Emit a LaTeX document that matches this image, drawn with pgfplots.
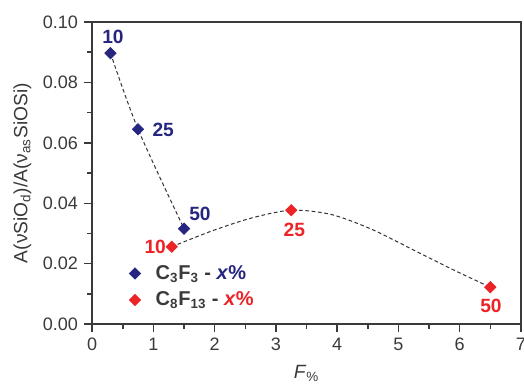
\documentclass[border=0pt]{standalone}
\usepackage{fontspec}
\setmainfont{Liberation Sans}
\usepackage{pgfplots}
\pgfplotsset{compat=1.18}
\usetikzlibrary{calc}
\definecolor{cblue}{HTML}{262680}
\definecolor{cred}{HTML}{EC2327}
\definecolor{ctext}{HTML}{3A3A3A}
\begin{document}
\begin{tikzpicture}
\begin{axis}[
  scale only axis, width=257pt, height=181pt,
  xmin=0, xmax=7, ymin=0, ymax=0.1,
  xtick={0,1,...,7}, ytick={0,0.02,...,0.1},
  minor x tick num=1, minor y tick num=1,
  tick align=outside, tick pos=left,
  major tick length=5pt, minor tick length=2.8pt,
  axis line style={line width=1.1pt, ctext},
  every tick/.style={line width=0.9pt, ctext},
  tick label style={font=\fontsize{10.8}{12}\selectfont, ctext},
  /pgf/number format/assume math mode=true,
  yticklabel style={/pgf/number format/.cd, fixed, fixed zerofill, precision=2},
  xlabel={\textit{F}\textsubscript{\%}},
  ylabel={A(νSiO\textsubscript{d})/A(ν\textsubscript{as}SiOSi)},
  label style={font=\fontsize{11.5}{13}\selectfont, ctext},
  xlabel style={yshift=-1.5pt},
  ylabel style={yshift=0pt},
  legend style={at={(axis cs:0.52,0.0218)}, anchor=north west, draw=none, fill=none,
    font=\fontsize{12}{14}\selectfont\bfseries, text=ctext, row sep=2pt},
  legend cell align=left,
  clip=false,
]
\coordinate (sw) at (rel axis cs:0,0);
\coordinate (ne) at (rel axis cs:1,1);
\addplot[only marks, mark=square*, mark size=2.4pt, mark options={rotate=45}, cblue] coordinates {
(0.30,0.0897) (0.75,0.0645) (1.50,0.0316)};
\addlegendentry{\hspace{7pt}C\textsubscript{3}F\textsubscript{3} - \textcolor{cblue}{\textit{x}\%}}
\addplot[only marks, mark=square*, mark size=2.4pt, mark options={rotate=45}, cred] coordinates {
(1.30,0.0256) (3.25,0.0377) (6.50,0.0122)};
\addlegendentry{\hspace{7pt}C\textsubscript{8}F\textsubscript{13} - \textcolor{cred}{\textit{x}\%}}
\addplot[smooth, dash pattern=on 2.2pt off 1.6pt, line width=0.6pt, black!80, forget plot] coordinates {
(0.30,0.0897) (0.75,0.0645) (1.50,0.0316)};
\addplot[smooth, dash pattern=on 2.2pt off 1.6pt, line width=0.6pt, black!80, forget plot] coordinates {
(1.30,0.0256) (1.95,0.0308) (2.60,0.0351) (3.25,0.0377) (3.90,0.0363) (4.55,0.0315) (5.20,0.0250) (5.85,0.0184) (6.50,0.0122)};
\begin{scope}[font=\fontsize{11.5}{13}\selectfont\bfseries]
\node[cblue] at (axis cs:0.34,0.0950) {10};
\node[cblue] at (axis cs:1.16,0.0642) {25};
\node[cblue] at (axis cs:1.76,0.0364) {50};
\node[cred] at (axis cs:1.03,0.0255) {10};
\node[cred] at (axis cs:3.30,0.0311) {25};
\node[cred] at (axis cs:6.51,0.0060) {50};
\end{scope}
\end{axis}
\pgfresetboundingbox
\path[use as bounding box] ($(sw)+(-55.2pt,-36.6pt)$) rectangle ($(ne)+(1.8pt,13.2pt)$);
\end{tikzpicture}
\end{document}
